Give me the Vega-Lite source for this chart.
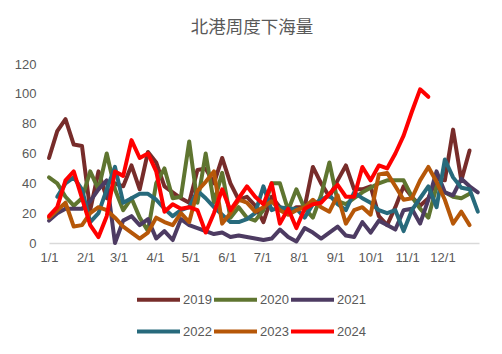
{
"$schema": "https://vega.github.io/schema/vega-lite/v6.json",
"width": 430, "height": 179,
"autosize": {"type": "none"},
"padding": {"left": 49, "top": 64, "right": 23, "bottom": 111},
"background": "white",
"config": {"view": {"stroke": null}},
"title": {"text": "北港周度下海量", "font": "Noto Sans CJK SC", "fontSize": 17.5, "fontWeight": "normal", "color": "#595959", "anchor": "middle", "offset": 22, "dx": -12},
"data": {"values": [
{"year":"2019","date":"2001-01-01","value":57},{"year":"2019","date":"2001-01-08","value":75},{"year":"2019","date":"2001-01-15","value":83},{"year":"2019","date":"2001-01-22","value":66},{"year":"2019","date":"2001-01-29","value":65},{"year":"2019","date":"2001-02-05","value":22},{"year":"2019","date":"2001-02-12","value":48},{"year":"2019","date":"2001-02-19","value":30},{"year":"2019","date":"2001-02-26","value":40},{"year":"2019","date":"2001-03-05","value":38},{"year":"2019","date":"2001-03-12","value":52},{"year":"2019","date":"2001-03-19","value":36},{"year":"2019","date":"2001-03-26","value":61},{"year":"2019","date":"2001-04-02","value":54},{"year":"2019","date":"2001-04-09","value":38},{"year":"2019","date":"2001-04-16","value":34},{"year":"2019","date":"2001-04-23","value":30},{"year":"2019","date":"2001-04-30","value":27},{"year":"2019","date":"2001-05-07","value":49},{"year":"2019","date":"2001-05-14","value":50},{"year":"2019","date":"2001-05-21","value":40},{"year":"2019","date":"2001-05-28","value":57},{"year":"2019","date":"2001-06-04","value":40},{"year":"2019","date":"2001-06-11","value":29},{"year":"2019","date":"2001-06-18","value":31},{"year":"2019","date":"2001-06-25","value":25},{"year":"2019","date":"2001-07-02","value":14},{"year":"2019","date":"2001-07-09","value":31},{"year":"2019","date":"2001-07-16","value":24},{"year":"2019","date":"2001-07-23","value":20},{"year":"2019","date":"2001-07-30","value":24},{"year":"2019","date":"2001-08-06","value":24},{"year":"2019","date":"2001-08-13","value":51},{"year":"2019","date":"2001-08-20","value":40},{"year":"2019","date":"2001-08-27","value":31},{"year":"2019","date":"2001-09-03","value":42},{"year":"2019","date":"2001-09-10","value":52},{"year":"2019","date":"2001-09-17","value":36},{"year":"2019","date":"2001-09-24","value":36},{"year":"2019","date":"2001-10-01","value":38},{"year":"2019","date":"2001-10-08","value":18},{"year":"2019","date":"2001-10-15","value":12},{"year":"2019","date":"2001-10-22","value":24},{"year":"2019","date":"2001-10-29","value":38},{"year":"2019","date":"2001-11-05","value":31},{"year":"2019","date":"2001-11-12","value":25},{"year":"2019","date":"2001-11-19","value":30},{"year":"2019","date":"2001-11-26","value":43},{"year":"2019","date":"2001-12-03","value":42},{"year":"2019","date":"2001-12-10","value":76},{"year":"2019","date":"2001-12-17","value":42},{"year":"2019","date":"2001-12-24","value":62},
{"year":"2020","date":"2001-01-01","value":44},{"year":"2020","date":"2001-01-08","value":40},{"year":"2020","date":"2001-01-15","value":31},{"year":"2020","date":"2001-01-22","value":25},{"year":"2020","date":"2001-01-29","value":30},{"year":"2020","date":"2001-02-05","value":48},{"year":"2020","date":"2001-02-12","value":36},{"year":"2020","date":"2001-02-19","value":60},{"year":"2020","date":"2001-02-26","value":36},{"year":"2020","date":"2001-03-05","value":22},{"year":"2020","date":"2001-03-12","value":30},{"year":"2020","date":"2001-03-19","value":17},{"year":"2020","date":"2001-03-26","value":8},{"year":"2020","date":"2001-04-02","value":40},{"year":"2020","date":"2001-04-09","value":50},{"year":"2020","date":"2001-04-16","value":30},{"year":"2020","date":"2001-04-23","value":31},{"year":"2020","date":"2001-04-30","value":68},{"year":"2020","date":"2001-05-07","value":27},{"year":"2020","date":"2001-05-14","value":60},{"year":"2020","date":"2001-05-21","value":27},{"year":"2020","date":"2001-05-28","value":47},{"year":"2020","date":"2001-06-04","value":17},{"year":"2020","date":"2001-06-11","value":24},{"year":"2020","date":"2001-06-18","value":17},{"year":"2020","date":"2001-06-25","value":15},{"year":"2020","date":"2001-07-02","value":22},{"year":"2020","date":"2001-07-09","value":40},{"year":"2020","date":"2001-07-16","value":40},{"year":"2020","date":"2001-07-23","value":22},{"year":"2020","date":"2001-07-30","value":36},{"year":"2020","date":"2001-08-06","value":23},{"year":"2020","date":"2001-08-13","value":17},{"year":"2020","date":"2001-08-20","value":32},{"year":"2020","date":"2001-08-27","value":54},{"year":"2020","date":"2001-09-03","value":28},{"year":"2020","date":"2001-09-10","value":26},{"year":"2020","date":"2001-09-17","value":30},{"year":"2020","date":"2001-09-24","value":34},{"year":"2020","date":"2001-10-01","value":37},{"year":"2020","date":"2001-10-08","value":40},{"year":"2020","date":"2001-10-15","value":42},{"year":"2020","date":"2001-10-22","value":42},{"year":"2020","date":"2001-10-29","value":42},{"year":"2020","date":"2001-11-05","value":31},{"year":"2020","date":"2001-11-12","value":23},{"year":"2020","date":"2001-11-19","value":17},{"year":"2020","date":"2001-11-26","value":38},{"year":"2020","date":"2001-12-03","value":34},{"year":"2020","date":"2001-12-10","value":31},{"year":"2020","date":"2001-12-17","value":30},{"year":"2020","date":"2001-12-24","value":33},
{"year":"2021","date":"2001-01-01","value":15},{"year":"2021","date":"2001-01-08","value":20},{"year":"2021","date":"2001-01-15","value":23},{"year":"2021","date":"2001-01-22","value":23},{"year":"2021","date":"2001-01-29","value":23},{"year":"2021","date":"2001-02-05","value":28},{"year":"2021","date":"2001-02-12","value":36},{"year":"2021","date":"2001-02-19","value":42},{"year":"2021","date":"2001-02-26","value":0},{"year":"2021","date":"2001-03-05","value":15},{"year":"2021","date":"2001-03-12","value":18},{"year":"2021","date":"2001-03-19","value":12},{"year":"2021","date":"2001-03-26","value":16},{"year":"2021","date":"2001-04-02","value":3},{"year":"2021","date":"2001-04-09","value":8},{"year":"2021","date":"2001-04-16","value":2},{"year":"2021","date":"2001-04-23","value":16},{"year":"2021","date":"2001-04-30","value":12},{"year":"2021","date":"2001-05-07","value":10},{"year":"2021","date":"2001-05-14","value":8},{"year":"2021","date":"2001-05-21","value":6},{"year":"2021","date":"2001-05-28","value":7},{"year":"2021","date":"2001-06-04","value":4},{"year":"2021","date":"2001-06-11","value":5},{"year":"2021","date":"2001-06-18","value":4},{"year":"2021","date":"2001-06-25","value":3},{"year":"2021","date":"2001-07-02","value":2},{"year":"2021","date":"2001-07-09","value":3},{"year":"2021","date":"2001-07-16","value":9},{"year":"2021","date":"2001-07-23","value":4},{"year":"2021","date":"2001-07-30","value":1},{"year":"2021","date":"2001-08-06","value":10},{"year":"2021","date":"2001-08-13","value":7},{"year":"2021","date":"2001-08-20","value":3},{"year":"2021","date":"2001-08-27","value":7},{"year":"2021","date":"2001-09-03","value":11},{"year":"2021","date":"2001-09-10","value":5},{"year":"2021","date":"2001-09-17","value":4},{"year":"2021","date":"2001-09-24","value":14},{"year":"2021","date":"2001-10-01","value":7},{"year":"2021","date":"2001-10-08","value":15},{"year":"2021","date":"2001-10-15","value":12},{"year":"2021","date":"2001-10-22","value":9},{"year":"2021","date":"2001-10-29","value":22},{"year":"2021","date":"2001-11-05","value":23},{"year":"2021","date":"2001-11-12","value":13},{"year":"2021","date":"2001-11-19","value":29},{"year":"2021","date":"2001-11-26","value":48},{"year":"2021","date":"2001-12-03","value":34},{"year":"2021","date":"2001-12-10","value":32},{"year":"2021","date":"2001-12-17","value":43},{"year":"2021","date":"2001-12-24","value":38},{"year":"2021","date":"2001-12-31","value":34},
{"year":"2022","date":"2001-01-08","value":31},{"year":"2022","date":"2001-01-15","value":40},{"year":"2022","date":"2001-01-22","value":44},{"year":"2022","date":"2001-01-29","value":36},{"year":"2022","date":"2001-02-05","value":14},{"year":"2022","date":"2001-02-12","value":20},{"year":"2022","date":"2001-02-19","value":36},{"year":"2022","date":"2001-02-26","value":51},{"year":"2022","date":"2001-03-05","value":27},{"year":"2022","date":"2001-03-12","value":30},{"year":"2022","date":"2001-03-19","value":33},{"year":"2022","date":"2001-03-26","value":33},{"year":"2022","date":"2001-04-02","value":29},{"year":"2022","date":"2001-04-09","value":23},{"year":"2022","date":"2001-04-16","value":18},{"year":"2022","date":"2001-04-23","value":22},{"year":"2022","date":"2001-04-30","value":24},{"year":"2022","date":"2001-05-07","value":35},{"year":"2022","date":"2001-05-14","value":30},{"year":"2022","date":"2001-05-21","value":24},{"year":"2022","date":"2001-05-28","value":19},{"year":"2022","date":"2001-06-04","value":14},{"year":"2022","date":"2001-06-11","value":14},{"year":"2022","date":"2001-06-18","value":16},{"year":"2022","date":"2001-06-25","value":20},{"year":"2022","date":"2001-07-02","value":38},{"year":"2022","date":"2001-07-09","value":22},{"year":"2022","date":"2001-07-16","value":24},{"year":"2022","date":"2001-07-23","value":23},{"year":"2022","date":"2001-07-30","value":23},{"year":"2022","date":"2001-08-06","value":17},{"year":"2022","date":"2001-08-13","value":26},{"year":"2022","date":"2001-08-20","value":29},{"year":"2022","date":"2001-08-27","value":32},{"year":"2022","date":"2001-09-03","value":26},{"year":"2022","date":"2001-09-10","value":22},{"year":"2022","date":"2001-09-17","value":34},{"year":"2022","date":"2001-09-24","value":30},{"year":"2022","date":"2001-10-01","value":27},{"year":"2022","date":"2001-10-08","value":22},{"year":"2022","date":"2001-10-15","value":20},{"year":"2022","date":"2001-10-22","value":22},{"year":"2022","date":"2001-10-29","value":8},{"year":"2022","date":"2001-11-05","value":22},{"year":"2022","date":"2001-11-12","value":30},{"year":"2022","date":"2001-11-19","value":38},{"year":"2022","date":"2001-11-26","value":24},{"year":"2022","date":"2001-12-03","value":56},{"year":"2022","date":"2001-12-10","value":44},{"year":"2022","date":"2001-12-17","value":37},{"year":"2022","date":"2001-12-24","value":36},{"year":"2022","date":"2001-12-31","value":21},
{"year":"2023","date":"2001-01-01","value":17},{"year":"2023","date":"2001-01-08","value":22},{"year":"2023","date":"2001-01-15","value":27},{"year":"2023","date":"2001-01-22","value":11},{"year":"2023","date":"2001-01-29","value":12},{"year":"2023","date":"2001-02-05","value":20},{"year":"2023","date":"2001-02-12","value":24},{"year":"2023","date":"2001-02-19","value":22},{"year":"2023","date":"2001-02-26","value":17},{"year":"2023","date":"2001-03-05","value":11},{"year":"2023","date":"2001-03-12","value":7},{"year":"2023","date":"2001-03-19","value":3},{"year":"2023","date":"2001-03-26","value":7},{"year":"2023","date":"2001-04-02","value":17},{"year":"2023","date":"2001-04-09","value":14},{"year":"2023","date":"2001-04-16","value":12},{"year":"2023","date":"2001-04-23","value":20},{"year":"2023","date":"2001-04-30","value":14},{"year":"2023","date":"2001-05-07","value":35},{"year":"2023","date":"2001-05-14","value":41},{"year":"2023","date":"2001-05-21","value":48},{"year":"2023","date":"2001-05-28","value":13},{"year":"2023","date":"2001-06-04","value":20},{"year":"2023","date":"2001-06-11","value":29},{"year":"2023","date":"2001-06-18","value":27},{"year":"2023","date":"2001-06-25","value":21},{"year":"2023","date":"2001-07-02","value":24},{"year":"2023","date":"2001-07-09","value":28},{"year":"2023","date":"2001-07-16","value":22},{"year":"2023","date":"2001-07-23","value":19},{"year":"2023","date":"2001-07-30","value":22},{"year":"2023","date":"2001-08-06","value":24},{"year":"2023","date":"2001-08-13","value":29},{"year":"2023","date":"2001-08-20","value":24},{"year":"2023","date":"2001-08-27","value":21},{"year":"2023","date":"2001-09-03","value":32},{"year":"2023","date":"2001-09-10","value":13},{"year":"2023","date":"2001-09-17","value":22},{"year":"2023","date":"2001-09-24","value":24},{"year":"2023","date":"2001-10-01","value":19},{"year":"2023","date":"2001-10-08","value":46},{"year":"2023","date":"2001-10-15","value":47},{"year":"2023","date":"2001-10-22","value":38},{"year":"2023","date":"2001-10-29","value":29},{"year":"2023","date":"2001-11-05","value":30},{"year":"2023","date":"2001-11-12","value":42},{"year":"2023","date":"2001-11-19","value":51},{"year":"2023","date":"2001-11-26","value":41},{"year":"2023","date":"2001-12-03","value":29},{"year":"2023","date":"2001-12-10","value":13},{"year":"2023","date":"2001-12-17","value":21},{"year":"2023","date":"2001-12-24","value":12},
{"year":"2024","date":"2001-01-01","value":18},{"year":"2024","date":"2001-01-08","value":24},{"year":"2024","date":"2001-01-15","value":42},{"year":"2024","date":"2001-01-22","value":48},{"year":"2024","date":"2001-01-29","value":30},{"year":"2024","date":"2001-02-05","value":12},{"year":"2024","date":"2001-02-12","value":4},{"year":"2024","date":"2001-02-19","value":18},{"year":"2024","date":"2001-02-26","value":48},{"year":"2024","date":"2001-03-05","value":45},{"year":"2024","date":"2001-03-12","value":69},{"year":"2024","date":"2001-03-19","value":57},{"year":"2024","date":"2001-03-26","value":60},{"year":"2024","date":"2001-04-02","value":48},{"year":"2024","date":"2001-04-09","value":21},{"year":"2024","date":"2001-04-16","value":26},{"year":"2024","date":"2001-04-23","value":23},{"year":"2024","date":"2001-04-30","value":24},{"year":"2024","date":"2001-05-07","value":22},{"year":"2024","date":"2001-05-14","value":7},{"year":"2024","date":"2001-05-21","value":20},{"year":"2024","date":"2001-05-28","value":36},{"year":"2024","date":"2001-06-04","value":22},{"year":"2024","date":"2001-06-11","value":30},{"year":"2024","date":"2001-06-18","value":38},{"year":"2024","date":"2001-06-25","value":31},{"year":"2024","date":"2001-07-02","value":26},{"year":"2024","date":"2001-07-09","value":40},{"year":"2024","date":"2001-07-16","value":13},{"year":"2024","date":"2001-07-23","value":23},{"year":"2024","date":"2001-07-30","value":10},{"year":"2024","date":"2001-08-06","value":23},{"year":"2024","date":"2001-08-13","value":26},{"year":"2024","date":"2001-08-20","value":27},{"year":"2024","date":"2001-08-27","value":33},{"year":"2024","date":"2001-09-03","value":39},{"year":"2024","date":"2001-09-10","value":31},{"year":"2024","date":"2001-09-17","value":31},{"year":"2024","date":"2001-09-24","value":51},{"year":"2024","date":"2001-10-01","value":42},{"year":"2024","date":"2001-10-08","value":52},{"year":"2024","date":"2001-10-15","value":50},{"year":"2024","date":"2001-10-22","value":60},{"year":"2024","date":"2001-10-29","value":72},{"year":"2024","date":"2001-11-05","value":88},{"year":"2024","date":"2001-11-12","value":103},{"year":"2024","date":"2001-11-19","value":98}
]},
"mark": {"type": "line", "strokeWidth": 4, "strokeJoin": "round", "strokeCap": "round"},
"encoding": {
  "x": {"field": "date", "type": "temporal",
    "scale": {"type": "utc", "domain": [{"year": 2001, "month": 1, "date": 1, "utc": true}, {"year": 2002, "month": 1, "date": 1, "utc": true}]},
    "axis": {"title": null, "values": [
      {"year": 2001, "month": 1, "date": 1, "utc": true}, {"year": 2001, "month": 2, "date": 1, "utc": true}, {"year": 2001, "month": 3, "date": 1, "utc": true}, {"year": 2001, "month": 4, "date": 1, "utc": true}, {"year": 2001, "month": 5, "date": 1, "utc": true}, {"year": 2001, "month": 6, "date": 1, "utc": true}, {"year": 2001, "month": 7, "date": 1, "utc": true}, {"year": 2001, "month": 8, "date": 1, "utc": true}, {"year": 2001, "month": 9, "date": 1, "utc": true}, {"year": 2001, "month": 10, "date": 1, "utc": true}, {"year": 2001, "month": 11, "date": 1, "utc": true}, {"year": 2001, "month": 12, "date": 1, "utc": true}],
      "labelExpr": "utcFormat(datum.value, '%-m/%-d')", "grid": false, "ticks": false, "domainColor": "#D9D9D9", "domainWidth": 1.5, "labelColor": "#595959", "labelFontSize": 13, "labelFont": "Liberation Sans", "labelPadding": 8, "labelOverlap": false, "labelFlush": false}},
  "y": {"field": "value", "type": "quantitative",
    "scale": {"domain": [0, 120]},
    "axis": {"title": null, "values": [0, 20, 40, 60, 80, 100, 120], "grid": false, "ticks": false, "domain": false, "labelPadding": 13, "labelColor": "#595959", "labelFontSize": 13, "labelFont": "Liberation Sans"}},
  "color": {"field": "year", "type": "nominal",
    "scale": {"domain": ["2019", "2020", "2021", "2022", "2023", "2024"], "range": ["#772C2A", "#5F7530", "#4D3B62", "#276A7C", "#B65708", "#FF0000"]},
    "legend": {"title": null, "orient": "none", "legendX": 86, "legendY": 212, "direction": "horizontal", "columns": 3, "symbolType": "stroke", "symbolSize": 1849, "symbolStrokeWidth": 4, "labelFontSize": 13, "labelColor": "#595959", "labelFont": "Liberation Sans", "labelOffset": 1, "columnPadding": -7, "rowPadding": -1}}
}
}
